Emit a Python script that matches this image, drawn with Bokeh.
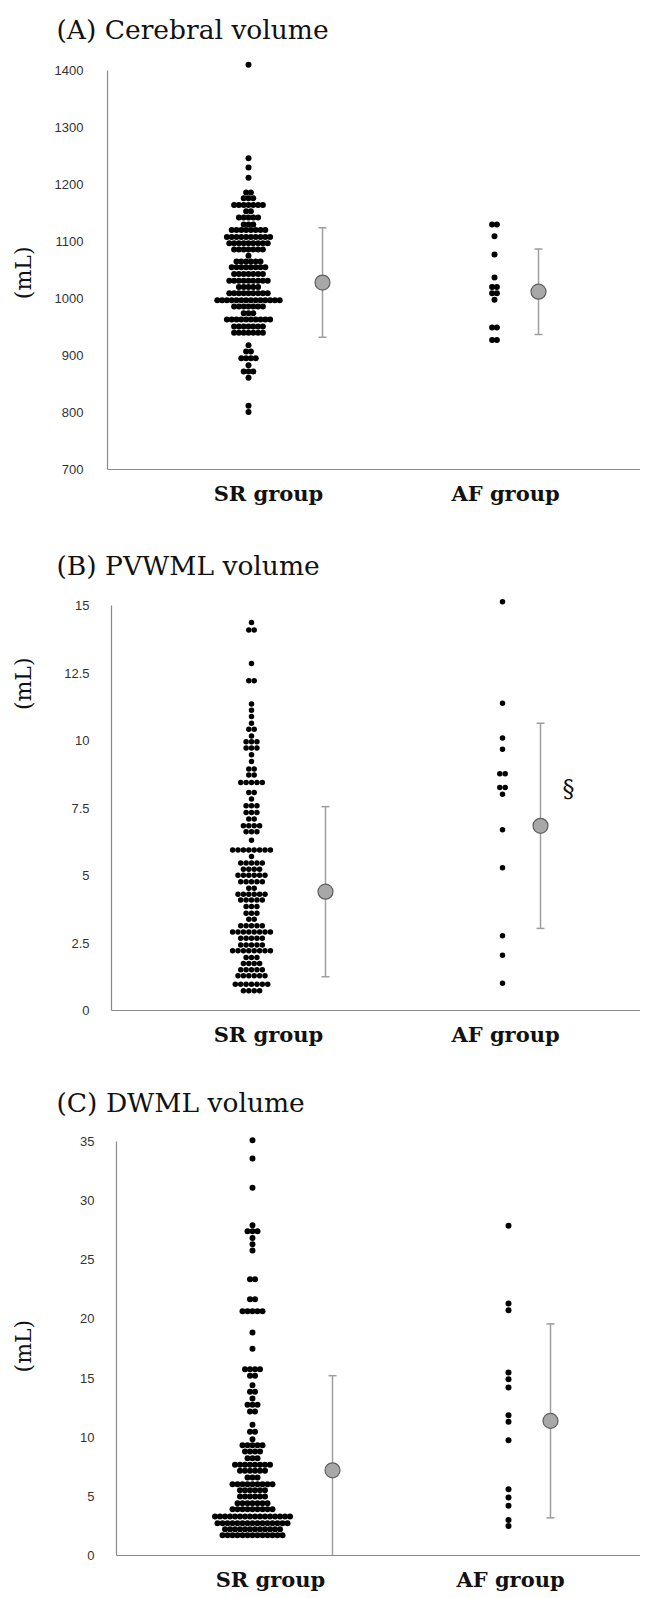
import math
import numpy as np
from bokeh.plotting import figure
from bokeh.layouts import column
from bokeh.models import Range1d, FixedTicker, NumeralTickFormatter
from bokeh.core.properties import value
from bokeh.embed import file_html
from bokeh.resources import INLINE

groups = ["SR group", "AF group"]

# ---------------- data ----------------
# beeswarm rows: value of the row, number of dots in that row
# (A) Cerebral volume, mL
a_sr_vals = [1410, 1246, 1230, 1212, 1186, 1176, 1164, 1153, 1142, 1130, 1120, 1108,
             1097, 1086, 1075, 1065, 1055, 1043, 1031, 1020, 1009, 997, 986, 974,
             963, 951, 940, 918, 907, 895, 883, 872, 861, 812, 801]
a_sr_cnts = [1, 1, 1, 1, 2, 3, 7, 2, 5, 3, 8, 10, 9, 7, 1, 6, 8, 7, 9, 5, 9, 14, 7, 3,
             10, 7, 7, 1, 2, 4, 1, 3, 1, 1, 1]
a_af_vals = [1130, 1109, 1077, 1037, 1020, 1009, 998, 949, 927]
a_af_cnts = [2, 1, 1, 1, 2, 2, 1, 2, 2]
a_mean = [1028, 1012]
a_sd = [96, 75]

# (B) PVWML volume, mL
b_sr_vals = [14.37, 14.09, 12.85, 12.21, 11.35, 11.12, 10.89, 10.64, 10.42, 10.17,
             9.95, 9.72, 9.47, 9.22, 8.94, 8.72, 8.44, 8.07, 7.83, 7.58, 7.33, 7.09,
             6.84, 6.62, 6.31, 5.94, 5.70, 5.46, 5.23, 5.01, 4.77, 4.53, 4.31, 4.09,
             3.85, 3.60, 3.38, 3.14, 2.91, 2.68, 2.43, 2.21, 1.96, 1.74, 1.51, 1.29,
             0.97, 0.73]
b_sr_cnts = [1, 2, 1, 2, 1, 1, 1, 1, 2, 1, 3, 3, 1, 1, 2, 2, 5, 2, 1, 3, 3, 2, 4, 3,
             1, 8, 1, 5, 4, 6, 5, 2, 6, 5, 3, 3, 2, 5, 8, 5, 5, 8, 3, 4, 5, 6, 7, 4]
b_af_vals = [15.14, 11.38, 10.09, 9.68, 8.77, 8.26, 8.01, 6.69, 5.29, 2.77, 2.05, 1.01]
b_af_cnts = [1, 1, 1, 1, 2, 2, 1, 1, 1, 1, 1, 1]
b_mean = [4.4, 6.84]
b_sd = [3.15, 3.8]

# (C) DWML volume, mL
c_sr_vals = [35.1, 33.56, 31.1, 27.92, 27.41, 26.85, 26.32, 25.78, 23.36, 21.67, 20.65,
             18.85, 17.47, 15.75, 15.19, 14.40, 13.84, 13.27, 12.74, 12.17, 11.05, 10.46,
             9.83, 9.32, 8.79, 8.22, 7.67, 7.16, 6.59, 6.03, 5.52, 4.99, 4.42, 3.91,
             3.30, 2.73, 2.22, 1.72]
c_sr_cnts = [1, 1, 1, 1, 3, 1, 1, 1, 2, 2, 5, 1, 1, 4, 2, 1, 2, 1, 3, 2, 1, 2, 1, 5, 4,
             3, 8, 6, 3, 9, 6, 6, 7, 9, 16, 15, 12, 13]
c_af_vals = [27.87, 21.3, 20.74, 15.47, 14.9, 14.2, 11.86, 11.3, 9.75, 5.6, 4.9, 4.2, 3.0, 2.5]
c_af_cnts = [1] * 14
c_mean = [7.2, 11.38]
c_sd = [8.0, 8.2]

titles = ["(A) Cerebral volume", "(B) PVWML volume", "(C) DWML volume"]
y_label = "(mL)"
y_ticks_a = [700, 800, 900, 1000, 1100, 1200, 1300, 1400]
y_ticks_b = [0, 2.5, 5, 7.5, 10, 12.5, 15]
y_ticks_c = [0, 5, 10, 15, 20, 25, 30, 35]

# ---------------- layout (page pixels) ----------------
SERIF = "DejaVu Serif"
SANS = "Liberation Sans"
PAGE_W = 640
X_LO, X_HI = 0, 640     # frame spans the whole figure width; x in page pixels
EXT = 40                # room inside the frame below the x axis for its labels
YLAB_X = 23             # page x of the unit label centre


def swarm(vals, cnts, center, step):
    xs, ys = [], []
    for v, n in zip(vals, cnts):
        for i in range(n):
            xs.append(center + (i - (n - 1) / 2.0) * step)
            ys.append(v)
    return xs, ys


def panel(title, sr, af, means, sds, yticks, ytop, cfg, fmt="0.[0]", extra=None):
    axis_x = cfg["axis_x"]
    y0, h = cfg["y0"], cfg["h"]
    ymin, ymax = yticks[0], yticks[-1]
    ppu = (cfg["ax_bot"] - cfg["ax_top"]) / float(ymax - ymin)
    frame_top = int(round(cfg["ax_top"] - (ytop - ymax) * ppu))
    frame_bot = cfg["ax_bot"] + EXT
    bt = frame_top - y0
    bb = y0 + h - frame_bot
    y_lo = ymin - (frame_bot - cfg["ax_bot"]) / ppu
    y_hi = ymax + (cfg["ax_top"] - frame_top) / ppu

    p = figure(width=PAGE_W, height=h, output_backend="svg", toolbar_location=None,
               x_range=Range1d(X_LO, X_HI), y_range=Range1d(y_lo, y_hi),
               min_border_left=0, min_border_right=0,
               min_border_top=bt, min_border_bottom=bb)
    p.outline_line_color = None
    p.xgrid.visible = False
    p.ygrid.visible = False
    p.background_fill_color = "white"
    p.border_fill_color = "white"

    # title
    p.title.text = title
    p.title.align = "left"
    p.title.offset = 56
    p.title.standoff = cfg["ts"]
    p.title.text_font = SERIF
    p.title.text_font_size = "26.5px"
    p.title.text_font_style = "normal"
    p.title.text_color = "#111111"

    # y axis, fixed at its place inside the frame
    ya = p.yaxis[0]
    ya.fixed_location = axis_x
    ya.ticker = FixedTicker(ticks=yticks)
    ya.formatter = NumeralTickFormatter(format=fmt)
    ya.bounds = (ymin, ymax)
    ya.axis_line_color = "#8a8a8a"
    ya.axis_line_width = 1.2
    ya.major_tick_line_color = None
    ya.minor_tick_line_color = None
    ya.major_label_standoff = cfg["mls"]
    ya.major_label_text_font = SANS
    ya.major_label_text_font_size = "13px"
    ya.major_label_text_color = "#333333"

    # x axis with group names, fixed at the lowest y tick
    xa = p.xaxis[0]
    lx = cfg["label_x"]
    xa.fixed_location = ymin
    xa.bounds = (axis_x, X_HI)
    xa.ticker = FixedTicker(ticks=lx)
    xa.major_label_overrides = {lx[0]: groups[0], lx[1]: groups[1]}
    xa.axis_line_color = "#8a8a8a"
    xa.axis_line_width = 1.2
    xa.major_tick_line_color = None
    xa.minor_tick_line_color = None
    xa.major_label_standoff = 5
    xa.major_label_text_font = SERIF
    xa.major_label_text_font_size = "21px"
    xa.major_label_text_font_style = "bold"
    xa.major_label_text_color = "#111111"

    # unit label
    p.text(x=[YLAB_X], y=[cfg["ylab_y"]], text=[y_label], angle=math.pi / 2,
           text_font=value(SERIF), text_font_size="22px", text_align="center",
           text_baseline="middle", text_color="#111111")

    # swarms
    for (vals, cnts), cx in zip([sr, af], cfg["dot_x"]):
        xs, ys = swarm(vals, cnts, cx, cfg["step"])
        p.scatter(xs, ys, marker="circle", size=cfg["dot"], fill_color="black",
                  line_color=None)

    # mean +/- SD (cut at the x axis, as in the original)
    mx = cfg["mean_x"]
    lo = [m - s for m, s in zip(means, sds)]
    hi = [m + s for m, s in zip(means, sds)]
    lo_drawn = [max(v, ymin) for v in lo]
    p.segment(x0=mx, y0=lo_drawn, x1=mx, y1=hi, line_color="#9e9e9e", line_width=1.5)
    cap_x = [x for x in mx] + [x for x, v in zip(mx, lo) if v >= ymin]
    cap_y = hi + [v for v in lo if v >= ymin]
    p.segment(x0=[x - 4 for x in cap_x], y0=cap_y, x1=[x + 4 for x in cap_x], y1=cap_y,
              line_color="#9e9e9e", line_width=1.5)
    p.scatter(mx, means, marker="circle", size=15, fill_color="#a8a8a8",
              line_color="#5f5f5f", line_width=1.2)

    if extra is not None:
        p.text(x=[extra[0]], y=[extra[1]], text=[extra[2]], text_font=value(SERIF),
               text_font_size="24px", text_align="center", text_baseline="middle",
               text_color="#111111")
    return p


cfg_a = dict(y0=8, h=532, ax_top=78, ax_bot=477, ts=23, mls=18, axis_x=107,
             step=4.8, dot=6, dot_x=[248, 494], mean_x=[322, 538],
             label_x=[268, 505], ylab_y=1045)
cfg_b = dict(y0=540, h=530, ax_top=613, ax_bot=1018, ts=27, mls=16, axis_x=111,
             step=5.4, dot=5.5, dot_x=[251, 502], mean_x=[325, 540],
             label_x=[268, 505], ylab_y=12.1)
cfg_c = dict(y0=1070, h=545, ax_top=1149, ax_bot=1563, ts=34, mls=16, axis_x=116,
             step=5.0, dot=6, dot_x=[252, 508], mean_x=[332, 550],
             label_x=[270, 510], ylab_y=17.7)

pa = panel(titles[0], (a_sr_vals, a_sr_cnts), (a_af_vals, a_af_cnts), a_mean, a_sd,
           y_ticks_a, 1425, cfg_a, fmt="0")
pb = panel(titles[1], (b_sr_vals, b_sr_cnts), (b_af_vals, b_af_cnts), b_mean, b_sd,
           y_ticks_b, 15.4, cfg_b, fmt="0.[0]", extra=(568, 8.2, "§"))
pc = panel(titles[2], (c_sr_vals, c_sr_cnts), (c_af_vals, c_af_cnts), c_mean, c_sd,
           y_ticks_c, 35.6, cfg_c, fmt="0")

layout = column(pa, pb, pc, spacing=0)
open("out.html", "w").write(file_html(layout, INLINE))
